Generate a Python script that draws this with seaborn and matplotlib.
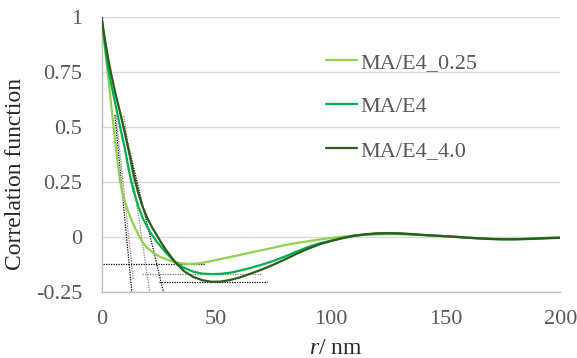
import numpy as np
import pandas as pd
import matplotlib
matplotlib.use("Agg")
import matplotlib.pyplot as plt
import seaborn as sns

# ---------------------------------
# data
# ---------------------------------
r_light = [0, 1, 2, 3, 4, 5, 6, 7, 8, 9, 10, 12, 14, 16, 18, 20, 23, 26, 30, 34, 38, 42, 46,
           50, 55, 60, 65, 70, 75, 80, 85, 90, 95, 100, 105, 110, 115, 120, 125, 130, 135,
           140, 145, 150, 155, 160, 165, 170, 175, 180, 185, 190, 195, 200]
g_light = [1.0, 0.905, 0.81, 0.715, 0.62, 0.525, 0.43, 0.34, 0.26, 0.205, 0.165, 0.105, 0.055,
           0.012, -0.025, -0.05, -0.075, -0.092, -0.108, -0.118, -0.122, -0.12, -0.113,
           -0.104, -0.093, -0.082, -0.07, -0.059, -0.048, -0.036, -0.027, -0.019, -0.011,
           -0.004, 0.002, 0.007, 0.010, 0.012, 0.013, 0.013, 0.011, 0.009, 0.006, 0.003,
           0.0, -0.003, -0.005, -0.007, -0.008, -0.008, -0.007, -0.005, -0.003, -0.002]

r_mid = [0, 1, 2, 3, 4, 5, 6, 7, 8, 10, 12, 13, 14, 16, 18, 21, 24, 28, 32, 36, 40, 44, 48,
         52, 56, 60, 65, 70, 75, 80, 85, 90, 95, 100, 105, 110, 115, 120, 125, 130, 135, 140,
         145, 150, 155, 160, 165, 170, 175, 180, 185, 190, 195, 200]
g_mid = [1.0, 0.91, 0.83, 0.76, 0.705, 0.655, 0.605, 0.555, 0.505, 0.41, 0.3, 0.25, 0.21,
         0.14, 0.085, 0.025, -0.02, -0.07, -0.113, -0.14, -0.157, -0.166, -0.168, -0.167,
         -0.162, -0.153, -0.14, -0.125, -0.108, -0.088, -0.066, -0.045, -0.029, -0.016,
         -0.004, 0.006, 0.012, 0.016, 0.017, 0.016, 0.013, 0.010, 0.007, 0.004, 0.001,
         -0.003, -0.006, -0.008, -0.010, -0.010, -0.008, -0.006, -0.004, -0.003]

r_dark = [0, 1, 2, 3, 4, 6, 8, 10, 12, 14, 16, 18, 20, 22, 24, 26, 28, 32, 36, 40, 44, 48, 52,
          56, 60, 65, 70, 75, 80, 85, 90, 95, 100, 105, 110, 115, 120, 125, 130, 135, 140,
          145, 150, 155, 160, 165, 170, 175, 180, 185, 190, 195, 200]
g_dark = [1.0, 0.93, 0.865, 0.805, 0.75, 0.655, 0.57, 0.48, 0.385, 0.285, 0.2, 0.135, 0.085,
          0.045, 0.01, -0.025, -0.057, -0.113, -0.155, -0.181, -0.196, -0.203, -0.202,
          -0.195, -0.184, -0.166, -0.147, -0.125, -0.101, -0.076, -0.053, -0.033, -0.018,
          -0.005, 0.006, 0.013, 0.017, 0.018, 0.017, 0.014, 0.010, 0.007, 0.004, 0.001,
          -0.003, -0.006, -0.009, -0.010, -0.010, -0.009, -0.007, -0.005, -0.003]

labels = ["MA/E4_0.25", "MA/E4", "MA/E4_4.0"]
colors = ["#92d050", "#00b050", "#2e5a1c"]

# tangent / minimum guide lines (x pairs, y pairs)
guide_x = [[5.8, 13.2], [6.3, 13.8], [9.7, 21.0], [8.7, 27.0],
           [0.5, 45.0], [17.5, 70.0], [25.0, 72.0]]
guide_y = [[0.555, -0.25], [0.55, -0.19], [0.55, -0.25], [0.547, -0.25],
           [-0.124, -0.124], [-0.168, -0.168], [-0.203, -0.203]]
guide_c = ["black", "gray", "gray", "black", "black", "gray", "black"]

yticks = [-0.25, 0, 0.25, 0.5, 0.75, 1]
ytick_labels = ["-0.25", "0", "0.25", "0.5", "0.75", "1"]
xticks = [0, 50, 100, 150, 200]

df = pd.concat([
    pd.DataFrame({"r": r_light, "g": g_light, "sample": labels[0]}),
    pd.DataFrame({"r": r_mid, "g": g_mid, "sample": labels[1]}),
    pd.DataFrame({"r": r_dark, "g": g_dark, "sample": labels[2]}),
])

# ---------------------------------
# plot
# ---------------------------------
sns.set_style("white")
plt.rcParams["font.family"] = ["Liberation Serif", "DejaVu Serif"]
plt.rcParams["mathtext.fontset"] = "custom"
plt.rcParams["mathtext.rm"] = "Liberation Serif"
plt.rcParams["mathtext.it"] = "Liberation Serif:italic"

fig = plt.figure(figsize=(5.77, 3.58), dpi=100)
ax = fig.add_axes([0.176, 0.184, 0.795, 0.7685])

for gx, gy, gc in zip(guide_x, guide_y, guide_c):
    ax.plot(gx, gy, color=gc, linestyle=(0, (1, 1)), linewidth=0.9, zorder=1)

sns.lineplot(data=df, x="r", y="g", hue="sample", hue_order=labels,
             palette=colors, linewidth=1.6, ax=ax, sort=False, zorder=3)

ax.set_xlim(0, 200)
ax.set_ylim(-0.25, 1)
ax.set_xticks(xticks)
ax.set_yticks(yticks)
ax.set_yticklabels(ytick_labels)
ax.grid(axis="y", color="#d9d9d9", linewidth=1)
ax.set_axisbelow(True)

for s in ["top", "right"]:
    ax.spines[s].set_visible(False)
for s in ["left", "bottom"]:
    ax.spines[s].set_color("#bfbfbf")
    ax.spines[s].set_linewidth(1)

ax.tick_params(axis="x", direction="in", length=5, color="#bfbfbf",
               labelsize=16, labelcolor="#595959", pad=13)
ax.tick_params(axis="y", length=0, labelsize=16, labelcolor="#595959", pad=14)

ax.set_ylabel("Correlation function", fontsize=17)
ax.set_xlabel(r"$\mathit{r}$/ nm", fontsize=17)
ax.yaxis.set_label_coords(-0.165, 0.43)
ax.xaxis.set_label_coords(0.51, -0.165)

leg = ax.legend(loc="upper left", bbox_to_anchor=(0.546, 0.885),
                bbox_transform=fig.transFigure, frameon=False, fontsize=16,
                handlelength=1.4, handletextpad=0.12, labelspacing=1.05, borderpad=0)
for t in leg.get_texts():
    t.set_color("#595959")
for h in leg.get_lines():
    h.set_linewidth(1.6)

fig.savefig("out.png", dpi=100)
